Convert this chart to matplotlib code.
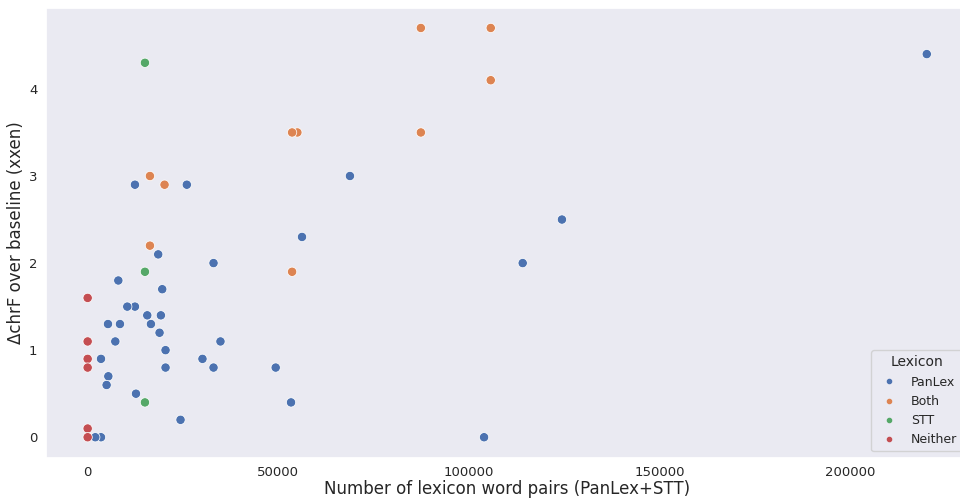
import matplotlib
matplotlib.use("Agg")
import matplotlib.pyplot as plt
from matplotlib.lines import Line2D
import seaborn as sns
import pandas as pd

# valeurs
panlex_x = [220000, 124350, 114060, 103930, 68770, 56200, 53320, 49300,
            34820, 33000, 33000, 30100, 26000, 24350, 20420, 20420, 19550,
            19200, 18850, 18500, 16590, 15630, 12670, 12400, 12400, 10390,
            8470, 8040, 7250, 5420, 5330, 4970, 3500, 3500, 2000]
panlex_y = [4.4, 2.5, 2.0, 0.0, 3.0, 2.3, 0.4, 0.8,
            1.1, 2.0, 0.8, 0.9, 2.9, 0.2, 1.0, 0.8, 1.7,
            1.4, 1.2, 2.1, 1.3, 1.4, 0.5, 2.9, 1.5, 1.5,
            1.3, 1.8, 1.1, 0.7, 1.3, 0.6, 0.9, 0.0, 0.0]

both_x = [105680, 105680, 87360, 87360, 54980, 53600, 53600, 20160, 16330, 16330]
both_y = [4.7, 4.1, 4.7, 3.5, 3.5, 3.5, 1.9, 2.9, 3.0, 2.2]

stt_x = [15020, 15020, 15020]
stt_y = [4.3, 1.9, 0.4]

neither_x = [0, 0, 0, 0, 0, 0]
neither_y = [1.6, 1.1, 0.9, 0.8, 0.1, 0.0]

categories = ["PanLex", "Both", "STT", "Neither"]

df = pd.concat([
    pd.DataFrame({"x": panlex_x, "y": panlex_y, "Lexicon": "PanLex"}),
    pd.DataFrame({"x": both_x, "y": both_y, "Lexicon": "Both"}),
    pd.DataFrame({"x": stt_x, "y": stt_y, "Lexicon": "STT"}),
    pd.DataFrame({"x": neither_x, "y": neither_y, "Lexicon": "Neither"}),
], ignore_index=True)

sns.set_theme(style="dark")
couleurs = sns.color_palette("deep", 4)

fig = plt.figure(figsize=(9.6, 5), dpi=100)
ax = fig.add_axes([0.0476, 0.0846, 0.9615, 0.9004])

sns.scatterplot(data=df, x="x", y="y", hue="Lexicon", hue_order=categories,
                palette=couleurs, s=45, ax=ax, legend=False)

ax.set_xlabel("Number of lexicon word pairs (PanLex+STT)", fontsize=12, labelpad=1)
ax.set_ylabel("\u0394chrF over baseline (xxen)", fontsize=12, labelpad=3)
ax.tick_params(labelsize=9.5, length=0)
ax.tick_params(axis="x", pad=6)
ax.tick_params(axis="y", pad=6)
ax.set_xticks([0, 50000, 100000, 150000, 200000])
ax.set_yticks([0, 1, 2, 3, 4])

# legende avec petits marqueurs
poignees = [Line2D([], [], marker="o", linestyle="", color=couleurs[i],
                   markersize=3) for i in range(len(categories))]
leg = ax.legend(poignees, categories, title="Lexicon", loc="lower right",
                fontsize=9, title_fontsize=10, borderaxespad=0.5)

fig.savefig("out.png", dpi=100)
